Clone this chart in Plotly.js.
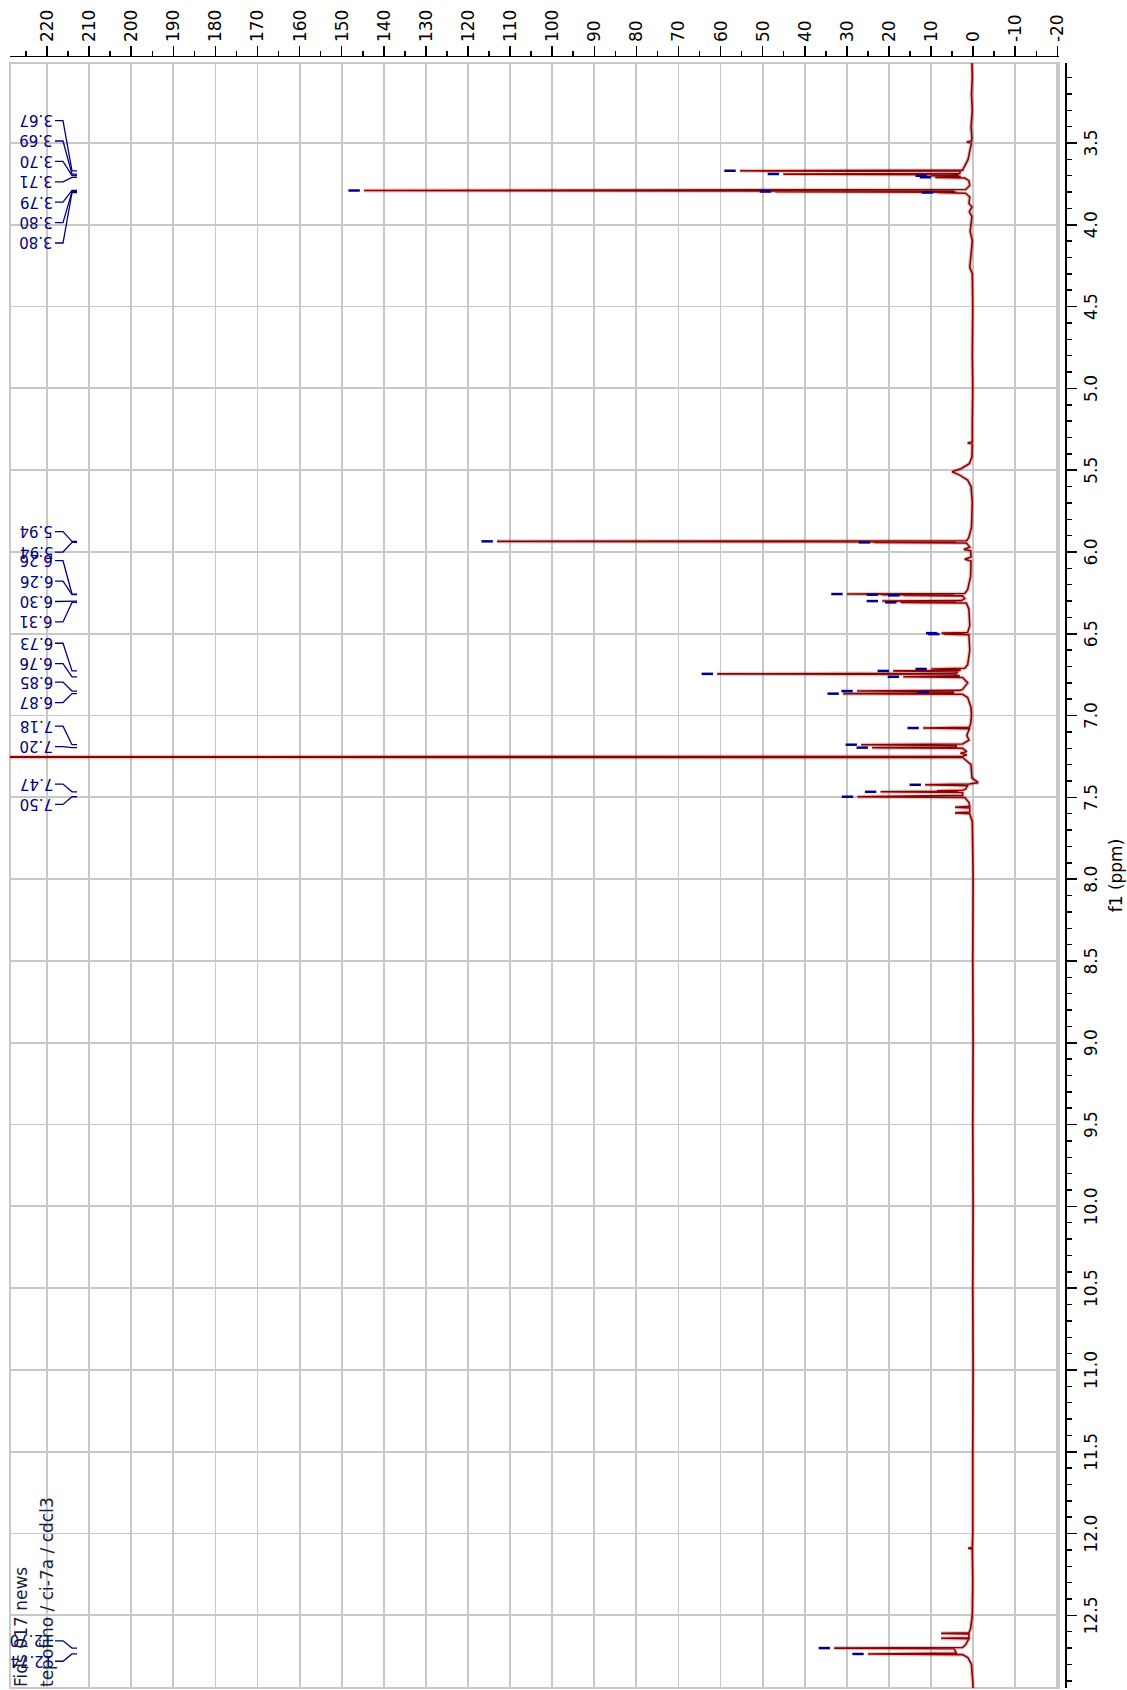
<!DOCTYPE html>
<html>
<head>
<meta charset="utf-8">
<script src="https://cdn.plot.ly/plotly-3.0.1.min.js"></script>
<style>
html, body { margin:0; padding:0; background:#fff; overflow:hidden; width:1127px; height:1690px; }
#wrap { position:absolute; left:0; top:0; width:1127px; height:1690px; overflow:hidden; background:#fff; }
#plot { position:absolute; left:0; top:0; width:1690px; height:1127px;
        transform-origin:0 0; transform:translate(0px,1690px) rotate(-90deg); }
</style>
</head>
<body>
<div id="wrap"><div id="plot"></div></div>
<script>
// ---------------- DATA ----------------
// 1H spectrum: chemical shift (ppm) and intensity
const shiftPpm = [
 3.011,3.10,3.20,3.30,3.40,3.470,3.488,3.494,3.500,3.55,3.60,3.63,3.650,3.660,3.666,3.670,3.674,3.686,3.690,3.694,
 3.698,3.700,3.703,3.707,3.710,3.714,3.730,3.760,3.784,3.790,3.794,3.797,3.800,3.803,3.807,3.830,3.870,3.890,3.920,3.950,
 4.040,4.100,4.260,4.300,4.500,4.800,5.000,5.200,5.328,5.334,5.340,5.420,5.460,5.490,5.510,5.530,5.560,5.600,5.700,5.850,
 5.910,5.931,5.935,5.938,5.941,5.945,5.970,5.985,5.992,6.030,6.045,6.055,6.150,6.230,6.254,6.257,6.259,6.261,6.263,6.265,
 6.268,6.285,6.297,6.300,6.304,6.308,6.312,6.350,6.450,6.492,6.496,6.499,6.502,6.506,6.600,6.690,6.711,6.715,6.719,6.724,
 6.727,6.731,6.741,6.745,6.749,6.759,6.763,6.767,6.800,6.840,6.846,6.850,6.853,6.856,6.860,6.866,6.870,6.890,6.950,7.000,
 7.050,7.072,7.076,7.080,7.120,7.150,7.174,7.178,7.182,7.192,7.196,7.200,7.220,7.230,7.240,7.250,7.253,7.256,7.300,7.380,
 7.410,7.418,7.423,7.428,7.450,7.456,7.460,7.463,7.466,7.470,7.488,7.496,7.501,7.530,7.555,7.560,7.565,7.590,7.595,7.600,
 7.650,8.0,8.5,9.0,9.5,10.0,10.5,11.0,11.5,12.0,12.086,12.090,12.094,12.300,12.500,12.580,12.607,12.610,12.613,12.637,
 12.640,12.643,12.680,12.696,12.700,12.704,12.731,12.736,12.740,12.760,12.800,12.900,12.944
];
const intensity = [
 0.3,0.2,0.4,0.2,0.5,0.3,0.4,1.5,0.4,0.8,1.2,1.8,2.2,2.4,2.5,55.4,3.0,3.2,45.1,3.8,
 3.5,10.0,3.2,3.0,9.0,2.0,1.0,0.8,1.8,144.7,4.5,47.0,4.0,8.5,1.8,0.8,1.0,0.3,0.9,0.3,
 0.7,0.2,0.8,0.2,0.1,0.2,0.1,0.2,0.2,1.3,0.2,0.3,0.9,2.8,5.0,3.2,1.3,0.5,0.2,0.4,
 1.0,1.5,113.1,4.0,23.5,1.6,0.8,2.2,0.6,0.5,2.0,0.5,0.6,1.3,2.0,30.0,6.0,21.6,4.5,16.5,
 2.5,2.0,2.8,21.6,4.0,17.2,1.6,1.0,0.8,1.3,7.5,2.0,7.0,1.0,0.8,1.3,2.0,10.0,3.0,3.2,
 19.0,3.6,4.0,60.8,4.2,3.2,16.6,2.5,1.3,2.5,3.2,27.6,4.5,9.5,4.5,30.9,2.5,1.3,0.5,0.4,
 0.6,0.9,11.9,0.9,1.5,1.0,2.5,26.6,4.0,4.0,24.0,2.5,1.5,3.0,1.5,2.5,400,2.5,0.5,0.3,
 -1.2,0.9,11.4,1.3,1.8,2.5,8.6,3.5,22.0,2.5,2.5,27.5,2.0,1.0,0.8,4.3,0.8,0.8,4.3,0.8,
 0.2,0.0,0.1,0.0,0.1,0.0,0.1,0.0,0.1,0.1,0.2,1.2,0.2,0.1,0.2,0.6,1.0,7.6,1.0,1.0,
 7.6,1.0,1.8,2.5,33.0,4.5,4.0,25.0,2.5,1.2,0.4,0.1,0.0
];

// picked peaks (blue marks)
const pickPpm    = [3.670,3.690,3.700,3.710,3.790,3.797,3.803,5.935,5.941,6.257,6.261,6.265,6.300,6.308,6.496,6.502,
                    6.715,6.727,6.745,6.763,6.850,6.856,6.866,7.076,7.178,7.196,7.423,7.466,7.496,12.700,12.736];
const pickHeight = [55.4,45.1,10.0,9.0,144.7,47.0,8.5,113.1,23.5,30.0,21.6,16.5,21.6,17.2,7.5,7.0,
                    10.0,19.0,60.8,16.6,27.6,9.5,30.9,11.9,26.6,24.0,11.4,22.0,27.5,33.0,25.0];

// multiplet peak labels
const labelText  = ['3.67','3.69','3.70','3.71','3.79','3.80','3.80','5.94','5.94','6.26','6.26','6.30','6.31',
                    '6.73','6.76','6.85','6.87','7.18','7.20','7.47','7.50','12.70','12.74'];
const labelPeak  = [3.670,3.690,3.700,3.710,3.790,3.797,3.803,5.935,5.941,6.257,6.261,6.300,6.308,
                    6.727,6.763,6.850,6.866,7.178,7.196,7.466,7.496,12.700,12.736];
const labelGroup = [0,0,0,0,0,0,0,1,1,2,2,2,2,3,3,4,4,5,5,6,6,7,7];

// axis ticks
const intensityTicks = [220,210,200,190,180,170,160,150,140,130,120,110,100,90,80,70,60,50,40,30,20,10,0,-10,-20];
const intensityTickText = intensityTicks.map(v => String(v));

// title text
const titleLines = ['Fids 017 news', 'tepofino / ci-7a / cdcl3'];

// ---------------- LAYOUT CONSTANTS ----------------
const W = 1690, H = 1127;
const M = {l:2, r:57, t:10, b:62};
const areaW = W - M.l - M.r;          // 1631
const areaH = H - M.t - M.b;          // 1055
const frameW = 1625, frameH = 1049;   // data frame (axes offset 6px)
const xDom = [0, frameW/areaW];
const yDom = [(areaH-frameH)/areaH, 1];
const xRange = [12.944, 3.011];
const vMin = -20.4, vMax = 228.8;
const vAt = px => vMax - (px - M.t) * (vMax - vMin) / frameH;   // px from top -> intensity units
const slotPpm = 20.4 / (frameW / (xRange[0]-xRange[1]));        // label spacing
const groupShiftSlots = [0, 0, -0.33, -1.0, 0, -0.48, 0, 0];
const FONT = 'DejaVu Sans, Verdana, sans-serif';

// ---------------- TRACES ----------------
const halo = {
  type:'scatter', mode:'lines', x:shiftPpm, y:intensity,
  line:{color:'rgba(170,60,60,0.28)', width:4, simplify:false}, hoverinfo:'skip'
};
const spectrum = {
  type:'scatter', mode:'lines', x:shiftPpm, y:intensity,
  line:{color:'#8b0000', width:1.6, simplify:false}, hoverinfo:'skip'
};

const pkX = [], pkY = [];
pickPpm.forEach((p, i) => { pkX.push(p, p, null); pkY.push(pickHeight[i] + 1.0, pickHeight[i] + 3.7, null); });
const picks = { type:'scatter', mode:'lines', x:pkX, y:pkY, line:{color:'#00008b', width:2.5}, hoverinfo:'skip' };

// label slot positions
const nGroups = Math.max(...labelGroup) + 1;
const slots = new Array(labelText.length);
for (let g = 0; g < nGroups; g++) {
  const idx = labelGroup.map((gg, i) => gg === g ? i : -1).filter(i => i >= 0);
  const center = idx.reduce((s, i) => s + labelPeak[i], 0) / idx.length + groupShiftSlots[g] * slotPpm;
  idx.forEach((i, k) => { slots[i] = center + (k - (idx.length - 1) / 2) * slotPpm; });
}
const cX = [], cY = [];
labelText.forEach((t, i) => {
  cX.push(slots[i], slots[i], labelPeak[i], labelPeak[i], null);
  cY.push(vAt(55), vAt(63), vAt(72), vAt(77), null);
});
const connectors = { type:'scatter', mode:'lines', x:cX, y:cY, line:{color:'#000080', width:1.3}, hoverinfo:'skip' };

const annotations = labelText.map((t, i) => ({
  text:t, x:slots[i], xref:'x', y:vAt(54), yref:'y', xanchor:'center', yanchor:'bottom',
  textangle:-90, showarrow:false, borderpad:0,
  font:{family:FONT, size:15, color:'#000080'}
}));
titleLines.forEach((t, i) => {
  annotations.push({
    text:t, xref:'paper', x:0, xanchor:'left', yref:'paper', y:1 - ((i === 0 ? 21.5 : 47.5) - M.t) / areaH,
    yanchor:'middle', showarrow:false, borderpad:0,
    font:{family:FONT, size:17, color:'#1c1c3c'}
  });
});

const layout = {
  width:W, height:H, margin:{l:M.l, r:M.r, t:M.t, b:M.b, pad:0},
  paper_bgcolor:'#ffffff', plot_bgcolor:'#ffffff', showlegend:false,
  font:{family:FONT, size:17, color:'#000'},
  xaxis:{
    range:xRange, domain:xDom, anchor:'free', position:0,
    tickmode:'linear', tick0:0, dtick:0.5, tickformat:'.1f',
    ticks:'outside', ticklen:10, tickwidth:1.5, tickcolor:'#000',
    showline:true, linecolor:'#000', linewidth:1.5,
    showgrid:true, gridcolor:'#c8c8c8', gridwidth:1.8, zeroline:false,
    minor:{tickmode:'linear', tick0:0, dtick:0.1, ticks:'outside', ticklen:5, tickwidth:1.5, tickcolor:'#000', showgrid:false},
    tickfont:{family:FONT, size:17, color:'#000'},
    title:{text:'f1 (ppm)', font:{family:FONT, size:17, color:'#000'}, standoff:10},
    automargin:false, fixedrange:true
  },
  yaxis:{
    range:[vMin, vMax], domain:yDom, side:'right', anchor:'free', position:1,
    tickmode:'array', tickvals:intensityTicks, ticktext:intensityTickText,
    ticks:'outside', ticklen:10, tickwidth:1.5, tickcolor:'#000',
    showline:true, linecolor:'#000', linewidth:1.5,
    showgrid:true, gridcolor:'#c8c8c8', gridwidth:1.8, zeroline:false,
    minor:{tickmode:'linear', tick0:0, dtick:5, ticks:'outside', ticklen:5, tickwidth:1.5, tickcolor:'#000', showgrid:false},
    tickfont:{family:FONT, size:17, color:'#000'},
    automargin:false, fixedrange:true
  },
  shapes:[{
    type:'rect', xref:'paper', yref:'paper', x0:xDom[0], x1:xDom[1], y0:yDom[0], y1:yDom[1],
    line:{color:'#c8c8c8', width:2}, layer:'below'
  }],
  annotations:annotations
};

Plotly.newPlot('plot', [halo, spectrum, picks, connectors], layout, {staticPlot:true, displayModeBar:false, responsive:false});
</script>
</body>
</html>
